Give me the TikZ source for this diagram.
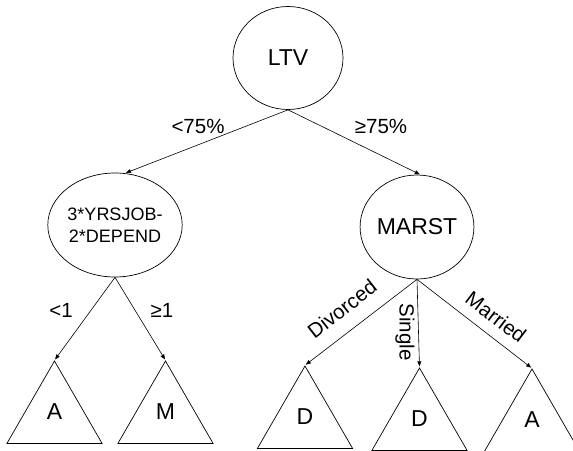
\documentclass[tikz,border=0pt]{standalone}
\usepackage{fontspec}
\setmainfont{Liberation Sans}
\usetikzlibrary{shapes.geometric,arrows.meta}
\begin{document}
\begin{tikzpicture}[x=1pt,y=-1pt,
  split/.style={ellipse,draw,line width=0.7pt,inner sep=0pt,
    minimum width=110pt,minimum height=103pt,
    font=\fontsize{23}{27}\selectfont},
  leaf/.style={regular polygon,regular polygon sides=3,draw,line width=0.7pt,
    inner sep=0pt,minimum size=110pt,text depth=9pt,
    font=\fontsize{23}{27}\selectfont},
  branch/.style={draw,line width=0.6pt,-{Triangle[length=5pt,width=4pt]},shorten >=1pt},
  lbl/.style={inner sep=1pt,font=\fontsize{20.5}{24}\selectfont}]
\useasboundingbox (0,0) rectangle (573,450);

% decision nodes
\node[split] (ltv) at (288,58) {LTV};
\node[split,minimum width=111pt,minimum height=104pt,
  font=\fontsize{18}{22}\selectfont,align=center] (yrs) at (115,225)
  {3*YRSJOB-\\2*DEPEND};
\node[split,minimum width=109pt,minimum height=104pt] (marst) at (417,227) {MARST};

% leaves
\node[leaf] (la) at (54.5,416) {A};
\node[leaf] (lm) at (165.5,416) {M};
\node[leaf] (ld1) at (305,421) {D};
\node[leaf] (ld2) at (419.5,423) {D};
\node[leaf] (la2) at (532,424) {A};

% branches
\draw[branch] (ltv.south) -- (yrs.79);
\draw[branch] (ltv.south) -- (marst.86);
\draw[branch] (yrs.south) -- (la.corner 1);
\draw[branch] (yrs.south) -- (lm.corner 1);
\draw[branch] (marst.south) -- (ld1.corner 1);
\draw[branch] (marst.south) -- (ld2.corner 1);
\draw[branch] (marst.south) -- (la2.corner 1);

% branch labels
\node[lbl] (t1) at (198,126) {<75\%};
\node[lbl] (t2) at (381,126) {≥75\%};
\node[lbl] (t3) at (61,310) {<1};
\node[lbl] (t4) at (162,310) {≥1};
\node[lbl,rotate=38] (t5) at (342,309) {Divorced};
\node[lbl,rotate=-90] (t6) at (405,332) {Single};
\node[lbl,rotate=-37] (t7) at (496,317) {Married};
\end{tikzpicture}
\end{document}
